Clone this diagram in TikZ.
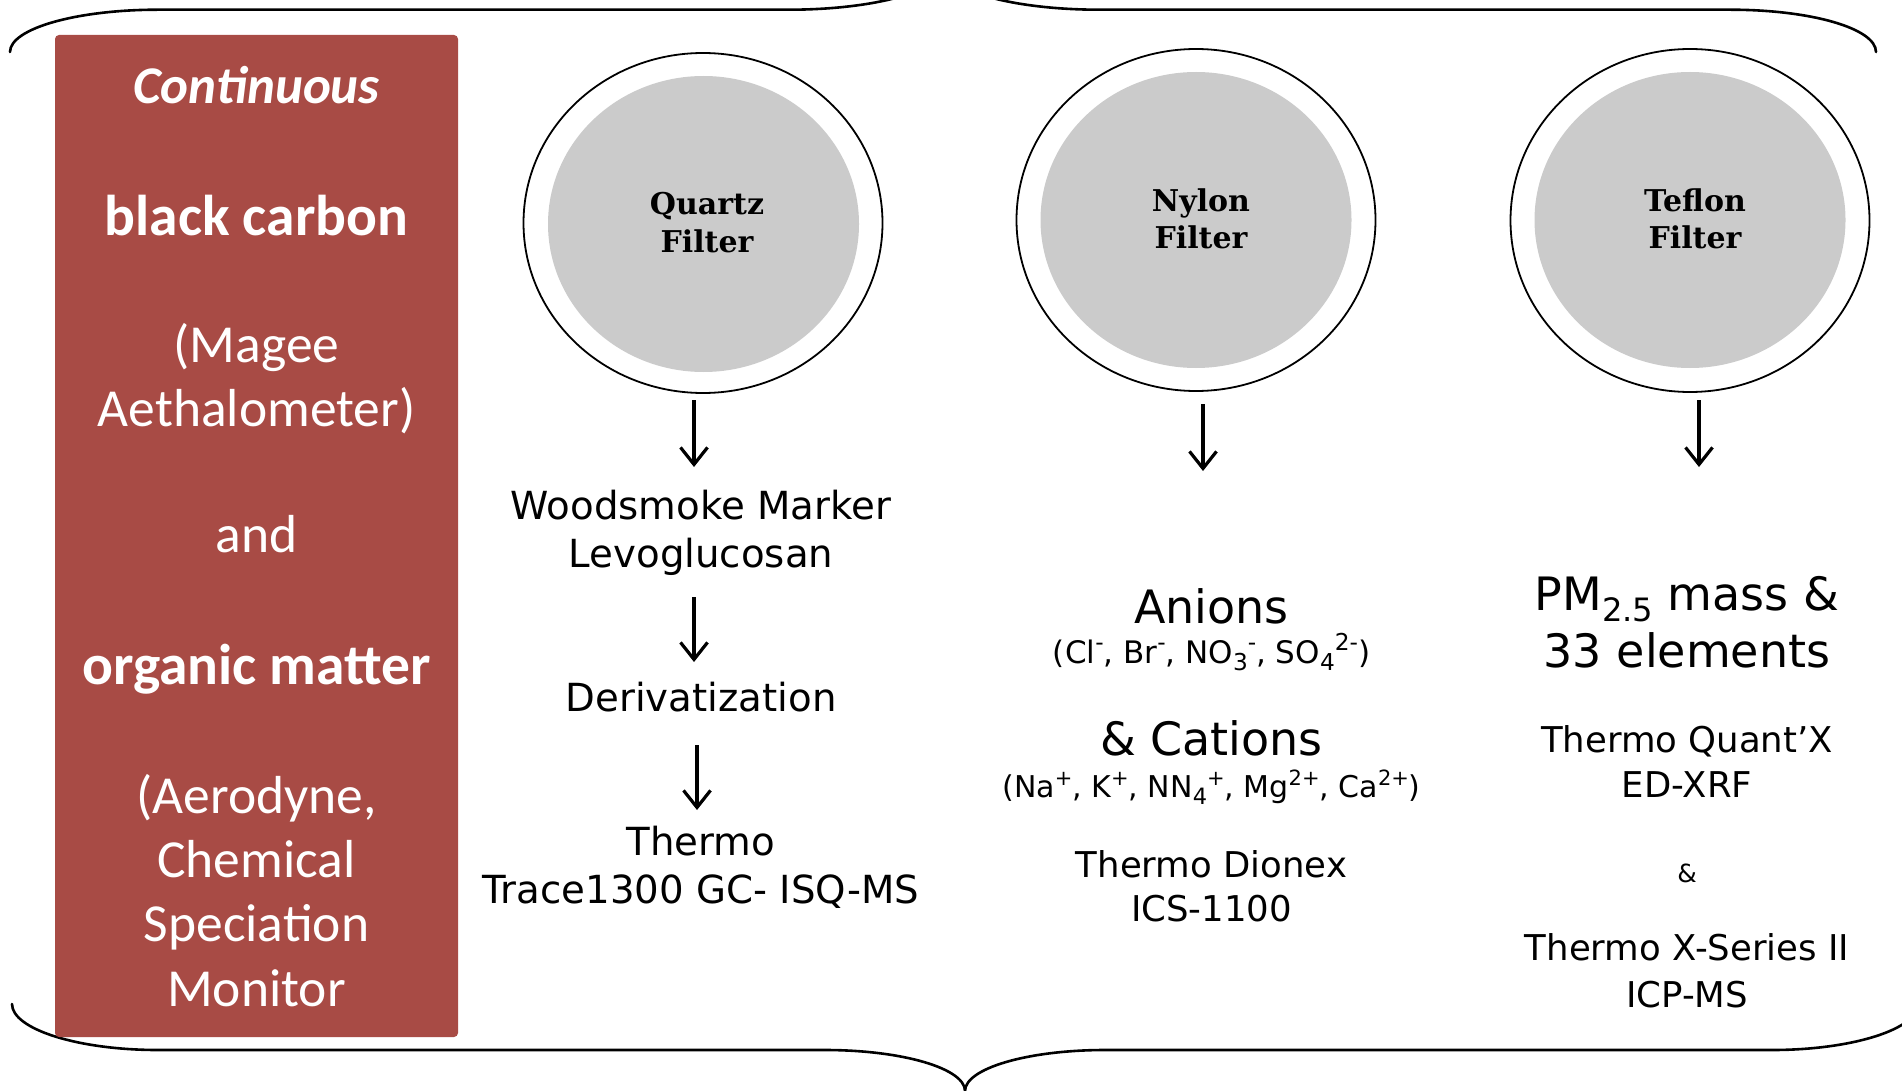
\documentclass[tikz,border=0pt]{standalone}
\usepackage{fontspec}
\usepackage{graphicx}
\setmainfont{DejaVu Sans}
\newfontfamily\boxfont{Carlito}
\newfontfamily\filterfont{DejaVu Serif}
\usetikzlibrary{arrows.meta,shapes.geometric}
\definecolor{boxred}{RGB}{168,75,69}
\definecolor{filtergray}{RGB}{203,203,203}
\newcommand\mysub[2][0.75]{\raisebox{-0.24em}{\scalebox{#1}{#2}}}
\newcommand\mysup[2][0.75]{\raisebox{0.40em}{\scalebox{#1}{#2}}}
\begin{document}
\begin{tikzpicture}[x=1pt,y=-1pt,
  brace/.style={line width=2.6pt, line cap=round, line join=round},
  arr/.style={line width=3.2pt, -{Straight Barb[length=17pt,width=27pt]}},
  rim/.style={ellipse, draw, line width=1.8pt, inner sep=0pt},
  disc/.style={ellipse, fill=filtergray, inner sep=0pt},
  flabel/.style={anchor=base, font=\filterfont\bfseries\fontsize{30}{36}\selectfont},
  boxline/.style={anchor=base, text=white, font=\boxfont\fontsize{53.5}{60}\selectfont},
  boxbold/.style={anchor=base, text=white, font=\boxfont\bfseries\fontsize{57.5}{64}\selectfont},
  qline/.style={anchor=base, font=\fontsize{38.7}{46}\selectfont},
  big/.style={anchor=base, font=\fontsize{46}{54}\selectfont},
  ions/.style={anchor=base, font=\fontsize{31}{37}\selectfont},
  inst/.style={anchor=base, font=\fontsize{35.5}{42}\selectfont},
  amp/.style={anchor=base, font=\fontsize{25}{30}\selectfont}]
\useasboundingbox (0,0) rectangle (1902,1091);
\begin{scope}
\clip (0,0) rectangle (1902,1091);
% top brace
\draw[brace] (10,52) .. controls (10,28.6) and (76.3,9.7) .. (158,9.7) -- (789,9.7)
  .. controls (874.6,9.7) and (944,-9.4) .. (944,-33)
  .. controls (944,-9.4) and (1013.4,9.7) .. (1099,9.7) -- (1730,9.7)
  .. controls (1811.7,9.7) and (1876,28.6) .. (1876,52);
% bottom brace
\draw[brace] (12,1004) .. controls (12,1029) and (77.4,1050) .. (158,1050) -- (825,1050)
  .. controls (902.3,1050) and (965,1068.4) .. (965,1091)
  .. controls (965,1068.4) and (1027.7,1050) .. (1105,1050) -- (1772,1050)
  .. controls (1852.6,1050) and (1918,1029) .. (1918,1004);
\end{scope}

% red box
\node[fill=boxred, rounded corners=4pt, minimum width=403pt, minimum height=1002pt, inner sep=0pt] (redbox) at (256.5,536) {};
\node[anchor=base, text=white, font=\boxfont\bfseries\itshape\fontsize{53}{60}\selectfont] (cont) at (256.5,104) {Continuous};
\node[boxbold] (bc) at (256.5,235.5) {black carbon};
\node[boxline] (mag1) at (256.5,362.5) {(Magee};
\node[boxline] (mag2) at (256.5,426) {Aethalometer)};
\node[boxline] (andw) at (256.5,552.5) {and};
\node[boxbold] (om) at (256.5,684) {organic matter};
\node[boxline] (aer1) at (256.5,813.5) {(Aerodyne,};
\node[boxline] (aer2) at (256.5,877.5) {Chemical};
\node[boxline] (aer3) at (256.5,941.5) {Speciation};
\node[boxline] (aer4) at (256.5,1006) {Monitor};

% filters
\node[rim, minimum width=359pt, minimum height=340pt] (qrim) at (703,223) {};
\node[disc, minimum width=311pt, minimum height=296pt] (qdisc) at (703.5,224) {};
\node[flabel] (q1) at (707,215) {Quartz};
\node[flabel] (q2) at (707,253) {Filter};

\node[rim, minimum width=359pt, minimum height=342pt] (nrim) at (1196,220) {};
\node[disc, minimum width=311pt, minimum height=296pt] (ndisc) at (1196,220) {};
\node[flabel] (n1) at (1201,212) {Nylon};
\node[flabel] (n2) at (1201,249) {Filter};

\node[rim, minimum width=359pt, minimum height=343pt] (trim) at (1690,220.5) {};
\node[disc, minimum width=311pt, minimum height=296pt] (tdisc) at (1690,220) {};
\node[flabel] (t1) at (1695,212) {Teflon};
\node[flabel] (t2) at (1695,249) {Filter};

% quartz column
\node[qline] (wm) at (701,519) {Woodsmoke Marker};
\node[qline] (lev) at (701,567.5) {Levoglucosan};
\node[qline] (der) at (701,711.5) {Derivatization};
\node[qline] (th1) at (701,855) {Thermo};
\node[qline] (th2) at (701,903) {Trace1300 GC- ISQ-MS};

% nylon column
\node[big] (an) at (1211.5,623) {Anions};
\node[ions] (anl) at (1211.5,663) {(Cl\mysup{-}, Br\mysup{-}, NO\mysub{3}\mysup{-}, SO\mysub{4}\mysup{2-})};
\node[big] (cat) at (1211.5,755) {\& Cations};
\node[ions, font=\fontsize{30}{36}\selectfont] (catl) at (1211.5,797) {(Na\mysup[0.7]{+}, K\mysup[0.7]{+}, NN\mysub{4}\mysup[0.7]{+}, Mg\mysup[0.7]{2+}, Ca\mysup[0.7]{2+})};
\node[inst] (di1) at (1211.5,877) {Thermo Dionex};
\node[inst] (di2) at (1211.5,921.5) {ICS-1100};

% teflon column
\node[big] (pm) at (1687,610) {PM\mysub[0.7]{2.5} mass \&};
\node[big] (el) at (1687,667) {33 elements};
\node[inst] (qx1) at (1687,752) {Thermo Quant’X};
\node[inst] (qx2) at (1687,797) {ED-XRF};
\node[amp] (amp) at (1687,882) {\&};
\node[inst] (xs1) at (1687,960.5) {Thermo X-Series II};
\node[inst] (xs2) at (1687,1007) {ICP-MS};

% arrows
\coordinate (qa1s) at (694,400); \coordinate (qa1e) at (694,467);
\coordinate (qa2s) at (694,597); \coordinate (qa2e) at (694,662);
\coordinate (qa3s) at (697,745); \coordinate (qa3e) at (697,810);
\coordinate (na1s) at (1203,404); \coordinate (na1e) at (1203,471);
\coordinate (ta1s) at (1699,400); \coordinate (ta1e) at (1699,467);
\draw[arr] (qa1s) -- (qa1e);
\draw[arr] (qa2s) -- (qa2e);
\draw[arr] (qa3s) -- (qa3e);
\draw[arr] (na1s) -- (na1e);
\draw[arr] (ta1s) -- (ta1e);
\end{tikzpicture}
\end{document}
